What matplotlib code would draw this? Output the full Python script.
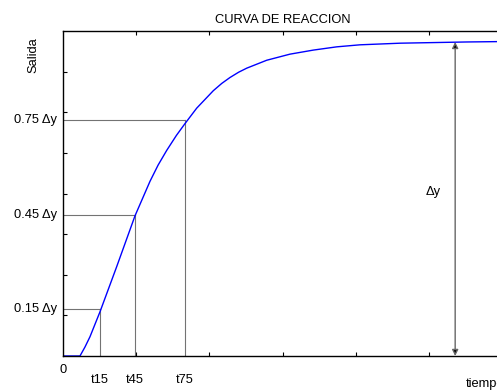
import matplotlib
matplotlib.use("Agg")
import matplotlib.pyplot as plt

plt.rcParams['font.family'] = ['Liberation Sans', 'DejaVu Sans']

# curve (tiempo, salida)
tiempo = [0.0, 0.232, 0.30, 0.369, 0.506, 0.734, 0.984, 1.189, 1.30, 1.417, 1.55,
          1.667, 1.827, 2.054, 2.17, 2.282, 2.40, 2.511, 2.784, 3.102, 3.421,
          3.741, 4.059, 4.61, 5.52, 6.0]
salida = [0.0, 0.0, 0.22, 0.475, 1.09, 2.20, 3.45, 4.30, 4.70, 5.06, 5.43,
          5.72, 6.10, 6.53, 6.71, 6.855, 6.985, 7.085, 7.28, 7.43, 7.53,
          7.61, 7.66, 7.70, 7.73, 7.74]

dy = 7.73
niveles = [0.15, 0.45, 0.75]
t_niveles = [0.507, 0.986, 1.67]
nivel_labels = ['0.15 \u0394y', '0.45 \u0394y', '0.75 \u0394y']
t_labels = ['t15', 't45', 't75']
x_flecha = 5.36

fig = plt.figure(figsize=(4.97, 3.92), dpi=100)
ax = fig.add_axes([63 / 497, 36 / 392, 439 / 497, 325 / 392])

# guide lines
for n, t in zip(niveles, t_niveles):
    ax.plot([0, t], [n * dy, n * dy], color='0.45', lw=0.8)
    ax.plot([t, t], [0, n * dy], color='0.45', lw=0.8)

ax.plot(tiempo, salida, color='#0000ff', lw=1.0)

# delta y arrow
ax.annotate('', xy=(x_flecha, dy), xytext=(x_flecha, 0),
            arrowprops=dict(arrowstyle='<|-|>', ec='0.4', fc='k', lw=1,
                            mutation_scale=9, shrinkA=0, shrinkB=0))
ax.text(x_flecha - 0.2, 4.04, '\u0394y', fontsize=9.3, ha='right', va='center')

ax.set_xlim(0, 6)
ax.set_ylim(0, 8)
ax.set_xticks(range(1, 6))
ax.set_yticks(range(1, 8))
ax.set_xticklabels([])
ax.set_yticklabels([])
ax.tick_params(direction='in', length=3, width=0.8, top=True, right=True)
for s in ax.spines.values():
    s.set_linewidth(1.0)

for n, lab in zip(niveles, nivel_labels):
    ax.text(-0.08, n * dy, lab, fontsize=9.3, ha='right', va='center')
ax.text(0, -0.2, '0', fontsize=9.3, ha='center', va='top')
for t, lab in zip(t_niveles, t_labels):
    ax.text(t, -0.45, lab, fontsize=9.3, ha='center', va='top')
ax.text(5.5, -0.55, 'tiempo', fontsize=9.3, ha='left', va='top', clip_on=False)
ax.text(-0.4, 7.4, 'Salida', fontsize=9.3, rotation=90, ha='center', va='center')

ax.set_title('CURVA DE REACCION', fontsize=9.3, pad=6)

fig.savefig('out.png', dpi=100)
